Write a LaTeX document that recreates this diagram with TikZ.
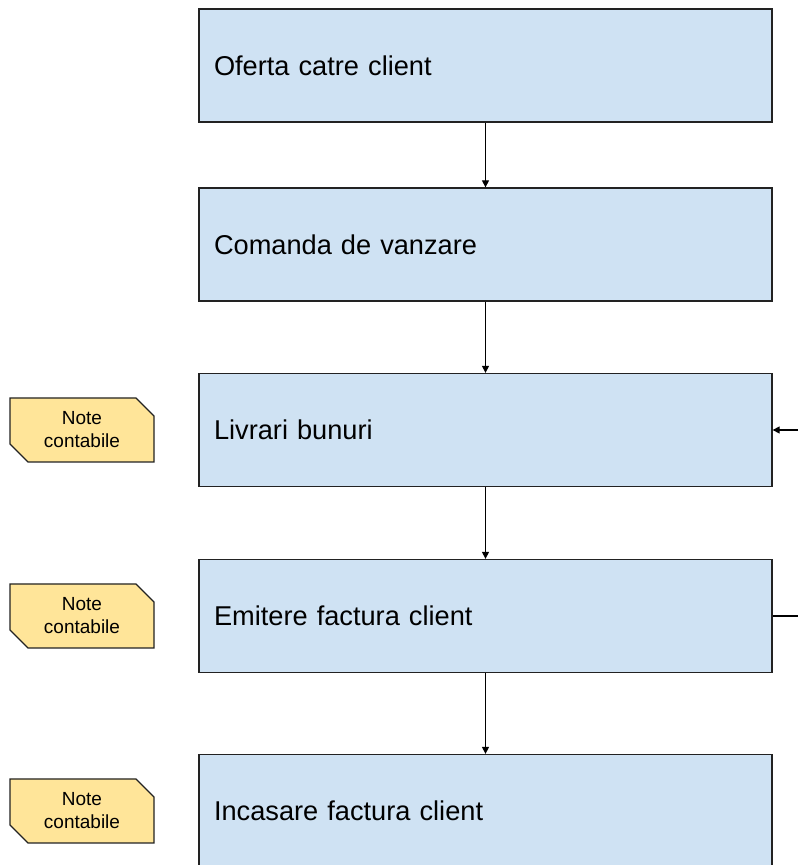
\documentclass[tikz,border=0pt]{standalone}
\usepackage{fontspec}
\setmainfont{Liberation Sans}
\usetikzlibrary{shapes.misc,arrows.meta}
\definecolor{boxblue}{HTML}{CFE2F3}
\definecolor{noteyellow}{HTML}{FFE599}
\definecolor{edgegray}{HTML}{222222}
\begin{document}
\begin{tikzpicture}[x=1pt,y=1pt,
  procbox/.style={draw=edgegray, line width=1.3pt, fill=boxblue, rectangle,
    minimum width=573pt, minimum height=113pt, text width=543pt, align=left,
    inner xsep=15pt, inner ysep=0pt, font=\fontsize{27.2}{32}\selectfont, anchor=center},
  notebox/.style={draw=edgegray, line width=1.2pt, fill=noteyellow, chamfered rectangle,
    chamfered rectangle corners={north east, south west}, chamfered rectangle xsep=10pt,
    chamfered rectangle ysep=8pt,
    minimum width=144pt, minimum height=64pt, inner sep=0pt, align=center,
    font=\fontsize{19}{23}\selectfont},
  flow/.style={draw=black, line width=1.3pt, -{Triangle[length=7pt,width=7pt]}},
  plain/.style={draw=black, line width=1.3pt}]
\useasboundingbox (0,0) rectangle (798,865);
\node[procbox] (b1) at (485.5,799.5) {Oferta catre client};
\node[procbox] (b2) at (485.5,620.5) {Comanda de vanzare};
\node[procbox] (b3) at (485.5,435) {Livrari bunuri};
\node[procbox] (b4) at (485.5,249) {Emitere factura client};
\node[procbox] (b5) at (485.5,54) {Incasare factura client};
\node[notebox] (n1) at (82,435) {Note\\contabile};
\node[notebox] (n2) at (82,249) {Note\\contabile};
\node[notebox] (n3) at (82,54) {Note\\contabile};
\coordinate (r3) at (800,435);
\coordinate (r4) at (800,249);
\draw[flow] (b1) -- (b2);
\draw[flow] (b2) -- (b3);
\draw[flow] (b3) -- (b4);
\draw[flow] (b4) -- (b5);
\draw[flow] (r3) -- (b3);
\draw[plain] (b4.east) -- (r4);
\end{tikzpicture}
\end{document}
